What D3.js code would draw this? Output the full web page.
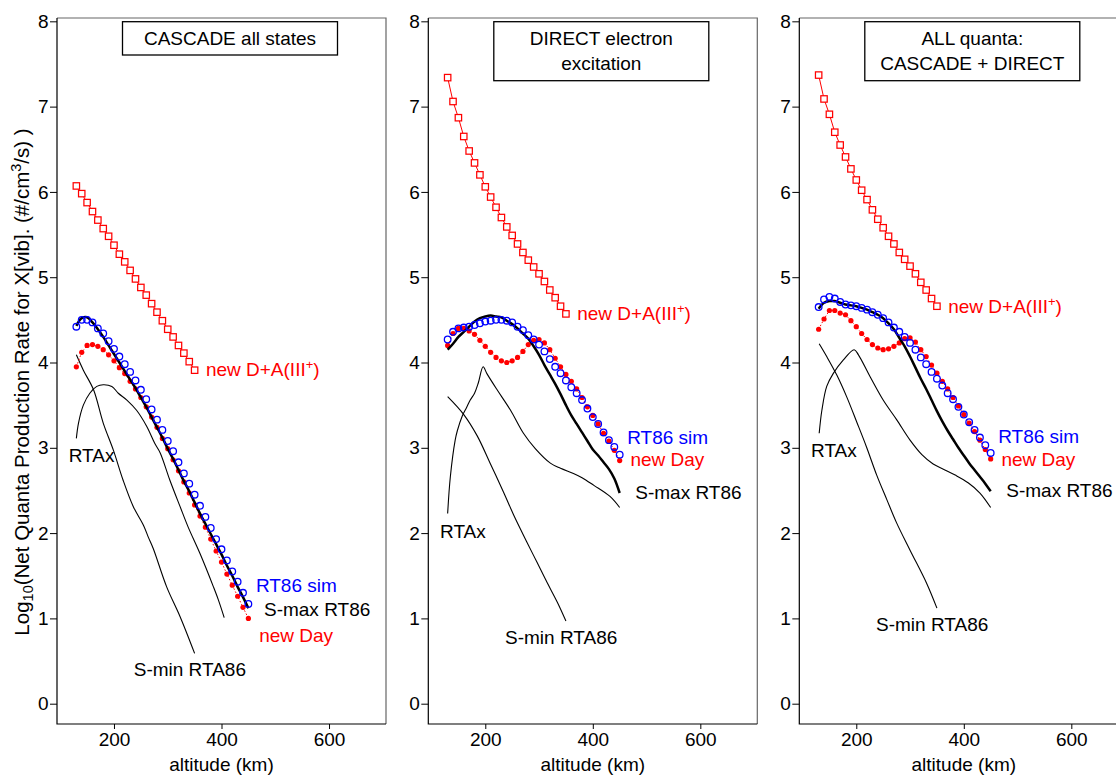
<!DOCTYPE html>
<html><head><meta charset="utf-8">
<script src="https://cdn.jsdelivr.net/npm/d3@7"></script>
<style>
html,body{margin:0;padding:0;background:#fff;}
svg{display:block;font-family:"Liberation Sans",Arial,Helvetica,sans-serif;}
</style></head><body>
<svg id="chart" width="1116" height="775"></svg>
<script>
// ---------- DATA ----------
const altSquares = [130,140,150,160,170,180,190,200,210,220,230,240,250,260,270,280,290,300,310,320,330,340,350];
const altCircles = [130,140,150,160,170,180,190,200,210,220,230,240,250,260,270,280,290,300,310,320,330,340,350,360,370,380,390,400,410,420,430,440,450];
const yTicks = [0,1,2,3,4,5,6,7,8];
const xTicks = [200,400,600];

// Panel 1: CASCADE all states
const cascadeDA   = [6.07,5.98,5.875,5.77,5.67,5.57,5.48,5.375,5.27,5.18,5.08,4.98,4.88,4.79,4.69,4.59,4.49,4.39,4.30,4.20,4.11,4.01,3.91];
const cascadeSim  = [4.42,4.50,4.50,4.47,4.40,4.34,4.25,4.16,4.07,3.98,3.89,3.79,3.68,3.57,3.45,3.33,3.21,3.08,2.96,2.83,2.70,2.58,2.45,2.32,2.19,2.06,1.93,1.81,1.68,1.55,1.43,1.30,1.17];
const cascadeDay  = [3.95,4.12,4.20,4.21,4.19,4.15,4.09,4.02,3.94,3.87,3.78,3.69,3.59,3.48,3.36,3.24,3.11,2.99,2.86,2.73,2.60,2.47,2.33,2.20,2.07,1.93,1.79,1.66,1.52,1.39,1.26,1.13,1.00];
const cascadeSmax = [4.43,4.52,4.53,4.47,4.39,4.30,4.20,4.10,4.00,3.90,3.80,3.70,3.59,3.48,3.36,3.24,3.12,2.99,2.87,2.74,2.61,2.49,2.36,2.23,2.11,1.99,1.87,1.75,1.62,1.50,1.37,1.25,1.12];
const cascadeRtaxAlt = [130,134,143,155,168,180,196,208,224,242,261,276,286,304,323,338,360,385,394,405];
const cascadeRtax    = [3.11,3.29,3.50,3.64,3.72,3.74,3.72,3.64,3.56,3.44,3.25,3.05,2.94,2.62,2.31,2.07,1.76,1.37,1.22,1.01];
const cascadeSminAlt = [130,143,162,180,199,217,236,255,264,273,298,323,350];
const cascadeSmin    = [4.09,3.91,3.68,3.29,2.97,2.62,2.31,2.09,1.95,1.82,1.37,1.02,0.59];

// Panel 2: DIRECT electron excitation
const directDA   = [7.34,7.06,6.87,6.65,6.48,6.34,6.20,6.06,5.94,5.82,5.70,5.59,5.49,5.39,5.29,5.20,5.12,5.04,4.95,4.85,4.76,4.66,4.57];
const directSim  = [4.27,4.36,4.40,4.41,4.42,4.44,4.46,4.48,4.49,4.50,4.50,4.49,4.47,4.42,4.38,4.32,4.27,4.21,4.13,4.04,3.95,3.875,3.79,3.71,3.64,3.56,3.46,3.36,3.28,3.18,3.09,3.01,2.92];
const directDay  = [4.20,4.34,4.40,4.40,4.37,4.33,4.26,4.19,4.12,4.06,4.02,4.00,4.02,4.06,4.13,4.21,4.26,4.27,4.23,4.15,4.05,3.95,3.86,3.78,3.69,3.59,3.48,3.38,3.28,3.17,3.08,2.97,2.85];
const directSmax = [4.15,4.22,4.30,4.36,4.42,4.48,4.52,4.54,4.55,4.54,4.53,4.49,4.45,4.40,4.34,4.28,4.19,4.09,3.97,3.86,3.75,3.63,3.50,3.38,3.28,3.18,3.08,2.98,2.91,2.83,2.75,2.64,2.47];
const directRtaxAlt = [130,135,144,148,157,165,172,180,187,196,203,222,247,271,293,321,340,364,380,402,432,450];
const directRtax    = [2.23,2.66,3.09,3.20,3.37,3.47,3.56,3.64,3.76,3.95,3.87,3.68,3.44,3.17,2.99,2.82,2.76,2.70,2.65,2.56,2.43,2.30];
const directSminAlt = [130,160,185,209,234,253,277,296,315,334,350];
const directSmin    = [3.60,3.39,3.14,2.82,2.48,2.21,1.90,1.66,1.42,1.19,0.97];

// Panel 3: ALL quanta
const allDA   = [7.37,7.09,6.91,6.70,6.55,6.41,6.27,6.14,6.02,5.91,5.79,5.68,5.58,5.48,5.39,5.29,5.21,5.13,5.04,4.94,4.85,4.75,4.66];
const allSim  = [4.65,4.74,4.77,4.75,4.71,4.68,4.67,4.66,4.64,4.62,4.59,4.56,4.52,4.47,4.41,4.36,4.30,4.23,4.15,4.06,3.98,3.89,3.81,3.73,3.64,3.57,3.48,3.39,3.30,3.21,3.12,3.03,2.94];
const allDay  = [4.39,4.51,4.61,4.61,4.58,4.56,4.49,4.42,4.34,4.27,4.21,4.17,4.15,4.16,4.19,4.23,4.28,4.29,4.24,4.15,4.07,3.97,3.875,3.78,3.69,3.59,3.49,3.39,3.29,3.19,3.09,2.98,2.87];
const allSmax = [4.63,4.70,4.72,4.72,4.70,4.68,4.67,4.66,4.64,4.62,4.59,4.56,4.52,4.46,4.39,4.29,4.19,4.07,3.94,3.81,3.69,3.56,3.43,3.31,3.20,3.10,3.00,2.91,2.82,2.74,2.66,2.58,2.49];
const allRtaxAlt = [131,136,145,157,176,196,204,226,250,275,300,322,343,362,384,408,430,450];
const allRtax    = [3.17,3.44,3.72,3.87,4.03,4.15,4.09,3.83,3.56,3.33,3.09,2.92,2.81,2.75,2.68,2.59,2.47,2.30];
const allSminAlt = [131,145,164,182,201,219,238,257,275,300,331,350];
const allSmin    = [4.22,4.07,3.85,3.60,3.30,3.01,2.68,2.39,2.12,1.80,1.41,1.12];

const panelTitles = [["CASCADE all states"],["DIRECT electron","excitation"],["ALL quanta:","CASCADE + DIRECT"]];

// ---------- LAYOUT ----------
const panels = [
  {left:57,    title:panelTitles[0], da:cascadeDA, sim:cascadeSim, day:cascadeDay, smax:cascadeSmax,
   rtax:[cascadeRtaxAlt,cascadeRtax], smin:[cascadeSminAlt,cascadeSmin],
   lab:{da:[371,3.842], sim:[464,1.309], smax:[479,1.032], day:[470,0.727], rtax:[115.8,2.828], smin:[236.7,0.325]}},
  {left:428.3, title:panelTitles[1], da:directDA, sim:directSim, day:directDay, smax:directSmax,
   rtax:[directRtaxAlt,directRtax], smin:[directSminAlt,directSmin],
   lab:{da:[371,4.498], sim:[464,3.045], smax:[479,2.396], day:[470,2.787], rtax:[115.8,1.939], smin:[236.7,0.696]}},
  {left:799.3, title:panelTitles[2], da:allDA, sim:allSim, day:allDay, smax:allSmax,
   rtax:[allRtaxAlt,allRtax], smin:[allSminAlt,allSmin],
   lab:{da:[371,4.577], sim:[464,3.053], smax:[479,2.420], day:[470,2.787], rtax:[115.8,2.889], smin:[236.7,0.856]}}
];
const TOP=18, BOTTOM=724, PW=329, FS=19;
const RED="#ff0000", BLUE="#0000ff";
const svg = d3.select("#chart");

panels.forEach((p,pi)=>{
  const x = d3.scaleLinear().domain([94,706]).range([p.left, p.left+PW]);
  const y = d3.scaleLinear().domain([-0.238,8.039]).range([BOTTOM, TOP]);
  const g = svg.append("g");

  // frame
  g.append("path").attr("d",`M${p.left},${TOP}H${p.left+PW}V${BOTTOM}`)
    .attr("fill","none").attr("stroke","#666").attr("stroke-width",1.2);
  g.append("path").attr("d",`M${p.left},${TOP}V${BOTTOM}H${p.left+PW}`)
    .attr("fill","none").attr("stroke","#000").attr("stroke-width",1.2);

  // axes
  const ya = g.append("g").attr("transform",`translate(${p.left},0)`)
    .call(d3.axisLeft(y).tickValues(yTicks).tickFormat(d3.format("d")).tickSize(7).tickSizeOuter(0).tickPadding(1.5));
  const xa = g.append("g").attr("transform",`translate(0,${BOTTOM})`)
    .call(d3.axisBottom(x).tickValues(xTicks).tickFormat(d3.format("d")).tickSize(5).tickSizeOuter(0).tickPadding(4));
  [ya,xa].forEach(a=>{
    a.select(".domain").remove();
    a.selectAll("text").attr("font-size",FS).attr("font-family","Liberation Sans, Arial, sans-serif").attr("fill","#000");
    a.selectAll("line").attr("stroke","#000");
  });

  g.append("text").attr("x",p.left+PW/2).attr("y",771).attr("text-anchor","middle")
    .attr("font-size",FS).text("altitude (km)");

  // title box
  const bh = p.title.length===1 ? 33.3 : 59;
  g.append("rect").attr("x",p.left+65.5).attr("y",21.7).attr("width",215).attr("height",bh)
    .attr("fill","#fff").attr("stroke","#000").attr("stroke-width",1.3);
  p.title.forEach((t,i)=>{
    g.append("text").attr("x",p.left+65.5+107.5).attr("y",45+i*25.3).attr("text-anchor","middle")
      .attr("font-size",FS).text(t);
  });

  const lin = d3.line().x(d=>x(d[0])).y(d=>y(d[1]));
  const smooth = d3.line().x(d=>x(d[0])).y(d=>y(d[1])).curve(d3.curveCatmullRom.alpha(0.5));

  // thin black lines
  const rt = p.rtax[0].map((a,i)=>[a,p.rtax[1][i]]);
  const sm = p.smin[0].map((a,i)=>[a,p.smin[1][i]]);
  g.append("path").attr("d",smooth(rt)).attr("fill","none").attr("stroke","#000").attr("stroke-width",1.1);
  g.append("path").attr("d",smooth(sm)).attr("fill","none").attr("stroke","#000").attr("stroke-width",1.1);

  // red squares series
  const da = altSquares.map((a,i)=>[a,p.da[i]]);
  g.append("path").attr("d",lin(da)).attr("fill","none").attr("stroke",RED).attr("stroke-width",1);
  g.selectAll(null).data(da).join("rect")
    .attr("x",d=>x(d[0])-3.2).attr("y",d=>y(d[1])-3.2).attr("width",6.4).attr("height",6.4)
    .attr("fill","#fff").attr("stroke",RED).attr("stroke-width",1.25);

  // red day dots with dotted line
  const day = altCircles.map((a,i)=>[a,p.day[i]]);
  g.append("path").attr("d",lin(day)).attr("fill","none").attr("stroke",RED).attr("stroke-width",1).attr("stroke-dasharray","1.5,2");
  g.selectAll(null).data(day).join("circle")
    .attr("cx",d=>x(d[0])).attr("cy",d=>y(d[1])).attr("r",2.6).attr("fill",RED);

  // S-max thick black
  const smx = altCircles.map((a,i)=>[a,p.smax[i]]);
  g.append("path").attr("d",smooth(smx)).attr("fill","none").attr("stroke","#000").attr("stroke-width",2.5);

  // blue open circles
  const sim = altCircles.map((a,i)=>[a,p.sim[i]]);
  g.selectAll(null).data(sim).join("circle")
    .attr("cx",d=>x(d[0])).attr("cy",d=>y(d[1])).attr("r",3.3)
    .attr("fill","none").attr("stroke",BLUE).attr("stroke-width",1.3);

  // labels
  const L = p.lab;
  const t1 = g.append("text").attr("x",x(L.da[0])).attr("y",y(L.da[1])).attr("font-size",FS).attr("fill",RED);
  t1.append("tspan").text("new D+A(III");
  t1.append("tspan").attr("dy",-7).attr("font-size",13).text("+");
  t1.append("tspan").attr("dy",7).text(")");
  g.append("text").attr("x",x(L.sim[0])).attr("y",y(L.sim[1])).attr("font-size",FS).attr("fill",BLUE).text("RT86 sim");
  g.append("text").attr("x",x(L.smax[0])).attr("y",y(L.smax[1])).attr("font-size",FS).attr("fill","#000").text("S-max RT86");
  g.append("text").attr("x",x(L.day[0])).attr("y",y(L.day[1])).attr("font-size",FS).attr("fill",RED).text("new Day");
  g.append("text").attr("x",x(L.rtax[0])).attr("y",y(L.rtax[1])).attr("font-size",FS).attr("fill","#000").text("RTAx");
  g.append("text").attr("x",x(L.smin[0])).attr("y",y(L.smin[1])).attr("font-size",FS).attr("fill","#000").text("S-min RTA86");
});

// y axis title
const yt = svg.append("text").attr("transform","translate(28.5,382) rotate(-90)")
  .attr("text-anchor","middle").attr("font-size",20.5);
yt.append("tspan").text("Log");
yt.append("tspan").attr("dy",4.5).attr("font-size",14.5).text("10");
yt.append("tspan").attr("dy",-4.5).text("(Net Quanta Production Rate for X[vib]. (#/cm");
yt.append("tspan").attr("dy",-8).attr("font-size",14.5).text("3");
yt.append("tspan").attr("dy",8).text("/s) )");
</script>
</body></html>
